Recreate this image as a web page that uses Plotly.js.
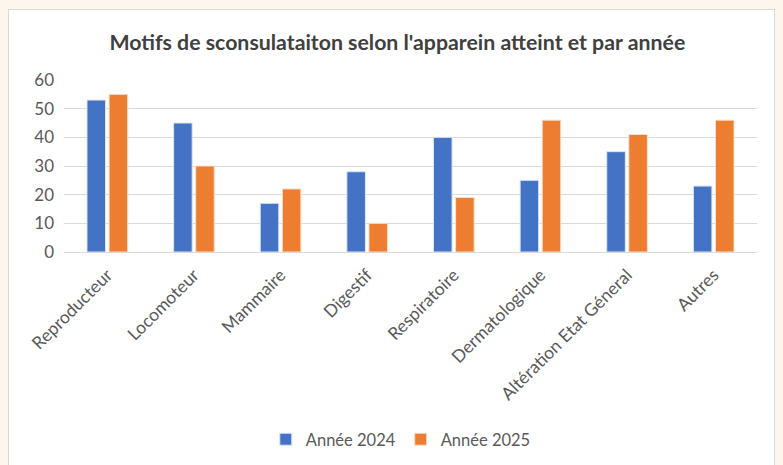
<!DOCTYPE html>
<html>
<head>
<meta charset="utf-8">
<script src="https://cdn.plot.ly/plotly-3.0.1.min.js"></script>
<style>
  html, body { margin: 0; padding: 0; background: #FDF6EC; width: 783px; height: 465px; overflow: hidden; }
  #box { position: absolute; left: 8px; top: 9px; width: 767px; height: 470px; background: #fff; border: 1px solid #D9D9D9; box-sizing: border-box; }
  #chart { width: 765px; height: 468px; }
</style>
</head>
<body>
<div id="box"><div id="chart"></div></div>
<script>
const categories = ["Reproducteur", "Locomoteur", "Mammaire", "Digestif", "Respiratoire", "Dermatologique", "Altération Etat Géneral", "Autres"];
const values2024 = [53, 45, 17, 28, 40, 25, 35, 23];
const values2025 = [55, 30, 22, 10, 19, 46, 41, 46];
const seriesNames = ["Année 2024", "Année 2025"];
const yTicks = [0, 10, 20, 30, 40, 50, 60];

const FONT = "Lato, 'Open Sans', sans-serif";

const traces = [
  { type: "bar", name: seriesNames[0], x: categories, y: values2024,
    marker: { color: "#4472C4", line: { color: "#DCE6F7", width: 1 } } },
  { type: "bar", name: seriesNames[1], x: categories, y: values2025,
    marker: { color: "#ED7D31", line: { color: "#FBE0CC", width: 1 } } }
];

const layout = {
  width: 765, height: 468,
  paper_bgcolor: "#ffffff", plot_bgcolor: "#ffffff",
  margin: { l: 55, r: 17, t: 70, b: 226 },
  font: { family: FONT, color: "#595959", size: 17 },
  title: { text: "Motifs de sconsulataiton selon l'apparein atteint et par année",
           font: { family: FONT, size: 21.3, color: "#404040", weight: "bold" },
           x: 0.481, xanchor: "center", xref: "paper", y: 1 - 33/468, yanchor: "middle", yref: "container" },
  barmode: "group", bargap: 0.49, bargroupgap: 0.16,
  xaxis: { type: "category", tickangle: -45, showgrid: false, showline: true, linecolor: "#D9D9D9", linewidth: 1,
           ticks: "", ticklabelstandoff: 5, tickfont: { family: FONT, size: 17.5, color: "#595959" }, fixedrange: true },
  yaxis: { range: [0, 60], tickvals: yTicks, showgrid: true, gridcolor: "#D9D9D9", gridwidth: 1,
           zeroline: false, showline: false, ticks: "", ticklabelstandoff: 9,
           tickfont: { family: FONT, size: 17, color: "#595959" }, fixedrange: true },
  showlegend: true,
  legend: { orientation: "h", x: 0.486, xanchor: "center", y: -1.09, yanchor: "middle",
            font: { family: FONT, size: 16.5, color: "#595959" }, traceorder: "normal", itemwidth: 30 }
};

Plotly.newPlot("chart", traces, layout, { displayModeBar: false, staticPlot: true });
</script>
</body>
</html>
